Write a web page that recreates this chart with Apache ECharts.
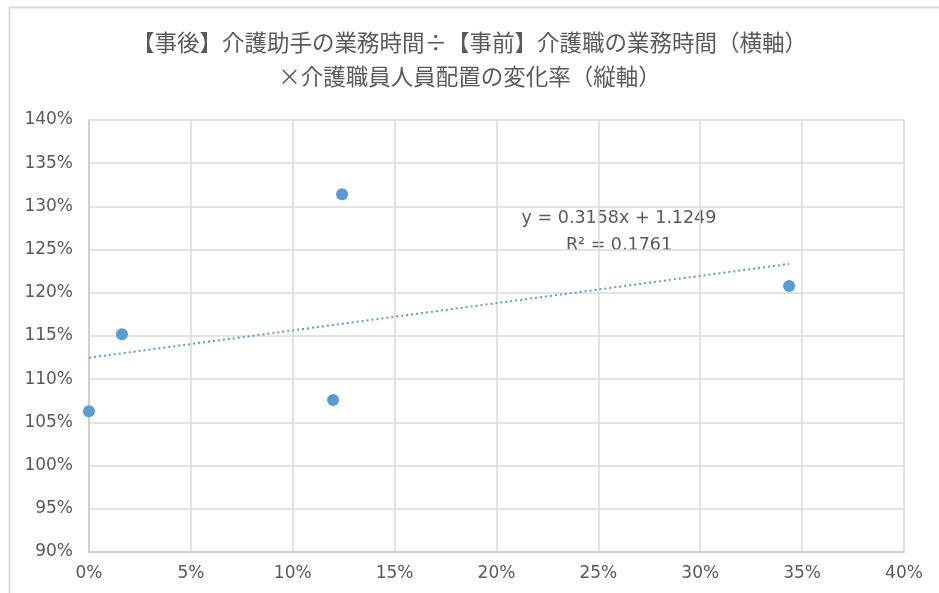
<!DOCTYPE html>
<html><head><meta charset="utf-8">
<script src="https://cdn.jsdelivr.net/npm/echarts@6/dist/echarts.min.js"></script>
<style>html,body{margin:0;padding:0;background:#fff}#c{width:939px;height:593px}</style>
</head><body><div id="c"></div>
<script>
const titleLines = ['【事後】介護助手の業務時間÷【事前】介護職の業務時間（横軸）', '×介護職員人員配置の変化率（縦軸）'];
const xValues = [0.000, 0.0162, 0.1242, 0.1198, 0.3436];
const yValues = [1.063, 1.152, 1.314, 1.076, 1.208];
const slope = 0.3158, intercept = 1.1249;
const eqLines = ['y = 0.3158x + 1.1249', 'R² = 0.1761'];
const xTicks = {min: 0, max: 0.40, interval: 0.05};
const yTicks = {min: 0.90, max: 1.40, interval: 0.05};

const pts = xValues.map((x, i) => [x, yValues[i]]);
const xMin = Math.min(...xValues), xMax = Math.max(...xValues);
const trend = [[xMin, intercept + slope * xMin], [xMax, intercept + slope * xMax]];
const pct = v => Math.round(v * 100) + '%';
const font = '"Noto Sans CJK JP", "Noto Sans", sans-serif';
const numFont = '"DejaVu Sans", sans-serif';
const chart = echarts.init(document.getElementById('c'));
chart.setOption({
  animation: false,
  backgroundColor: '#fff',
  title: {
    text: titleLines.join('\n'), left: 'center', top: 20,
    textStyle: {fontFamily: font, fontSize: 22.5, fontWeight: 'normal', color: '#595959', lineHeight: 34}
  },
  grid: {left: 89, right: 35, top: 120, bottom: 41, containLabel: false},
  xAxis: {
    type: 'value', min: xTicks.min, max: xTicks.max, interval: xTicks.interval,
    axisLine: {show: true, lineStyle: {color: '#c8c8c8', width: 1.5}},
    axisTick: {show: false},
    splitLine: {show: true, lineStyle: {color: '#d9d9d9', width: 1.5}},
    axisLabel: {formatter: pct, color: '#595959', fontSize: 17, fontFamily: numFont, margin: 13}
  },
  yAxis: {
    type: 'value', min: yTicks.min, max: yTicks.max, interval: yTicks.interval,
    axisLine: {show: true, lineStyle: {color: '#c8c8c8', width: 1.5}},
    axisTick: {show: false},
    splitLine: {show: true, lineStyle: {color: '#d9d9d9', width: 1.5}},
    axisLabel: {formatter: pct, color: '#595959', fontSize: 17, fontFamily: numFont, margin: 16}
  },
  series: [
    {type: 'line', data: trend, symbol: 'none', lineStyle: {color: '#5b9bd5', width: 2, type: [2, 3]}, z: 2},
    {type: 'scatter', data: pts, symbolSize: 12, itemStyle: {color: '#5b9bd5', opacity: 1}, z: 3}
  ],
  graphic: [
    {type: 'rect', left: 7, top: 5, shape: {width: 950, height: 600}, style: {fill: 'none', stroke: '#d9d9d9', lineWidth: 2}, z: -10, silent: true},
    {type: 'text', x: 619, y: 218, style: {text: eqLines[0], align: 'center', verticalAlign: 'middle', fill: '#595959', font: '17.5px ' + numFont}},
    {type: 'text', x: 619, y: 245, style: {text: eqLines[1], align: 'center', verticalAlign: 'middle', fill: '#595959', font: '17.5px ' + numFont}}
  ]
});
</script></body></html>
